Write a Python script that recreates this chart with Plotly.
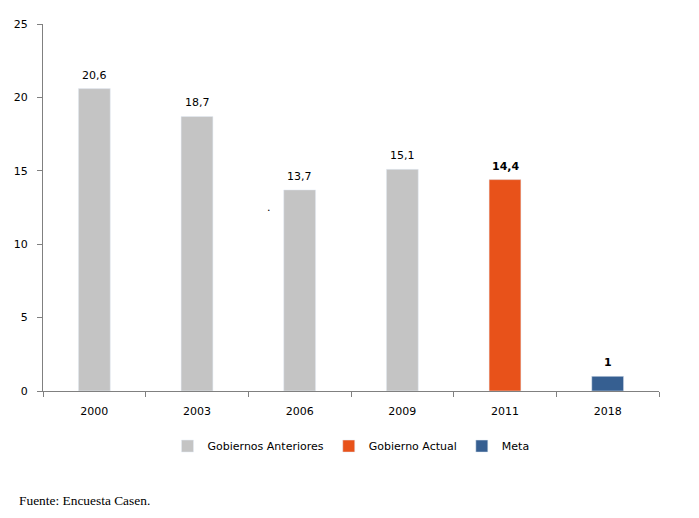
import plotly.graph_objects as go

categories = ["2000", "2003", "2006", "2009", "2011", "2018"]
prev_years = ["2000", "2003", "2006", "2009"]
prev_values = [20.6, 18.7, 13.7, 15.1]
actual_years = ["2011"]
actual_values = [14.4]
meta_years = ["2018"]
meta_values = [1]
y_ticks = [0, 5, 10, 15, 20, 25]

font = "DejaVu Sans, Verdana, sans-serif"
fig = go.Figure()
fig.add_trace(go.Bar(x=prev_years, y=prev_values, name="Gobiernos Anteriores",
                     marker_color="#c4c4c4", width=0.31))
fig.add_trace(go.Bar(x=actual_years, y=actual_values, name="Gobierno Actual",
                     marker_color="#e8521a", width=0.31))
fig.add_trace(go.Bar(x=meta_years, y=meta_values, name="Meta",
                     marker_color="#365f91", width=0.31))

def fmt(v):
    return (f"{v:.1f}" if v != int(v) else f"{int(v)}").replace(".", ",")

annotations = []
for xs, ys, bold in [(prev_years, prev_values, False), (actual_years, actual_values, True),
                     (meta_years, meta_values, True)]:
    for x, y in zip(xs, ys):
        t = fmt(y)
        annotations.append(dict(x=categories.index(x), y=y, text=f"<b>{t}</b>" if bold else t,
                                xref="x", yref="y", yanchor="bottom", yshift=5,
                                showarrow=False, font=dict(size=11, color="black", family=font)))

annotations.append(dict(text="Fuente: Encuesta Casen.", xref="paper", yref="paper",
                        x=(17 - 43) / 616, y=(391 - 500) / 367, xanchor="left", yanchor="middle",
                        showarrow=False,
                        font=dict(family="Liberation Serif, Times New Roman, serif", size=13.4, color="black")))
annotations.append(dict(text=".", xref="paper", yref="paper", x=(269 - 43) / 616, y=(391 - 207) / 367,
                        showarrow=False, font=dict(size=11, color="black")))

fig.update_layout(
    width=699, height=518, barmode="overlay",
    plot_bgcolor="white", paper_bgcolor="white",
    margin=dict(l=35, r=48, t=16, b=135, autoexpand=False),
    font=dict(family=font, size=11, color="black"),
    showlegend=True,
    legend=dict(orientation="h", x=0.5, xanchor="center", y=-0.15, yanchor="middle",
                font=dict(size=11), itemwidth=30, traceorder="normal"),
    xaxis=dict(categoryorder="array", categoryarray=categories, type="category",
               showline=True, linecolor="#808080", linewidth=1, automargin=False,
               ticks="outside", tickson="boundaries", ticklen=5, tickcolor="#808080",
               ticklabelstandoff=10, showgrid=False, range=[-0.5, 5.5]),
    yaxis=dict(range=[0, 25], tickvals=y_ticks, showline=True, linecolor="#808080",
               linewidth=1, ticks="outside", ticklen=5, tickcolor="#808080", automargin=False,
               ticklabelstandoff=7, showgrid=False, zeroline=False),
    annotations=annotations,
)
fig.write_html("out.html")
